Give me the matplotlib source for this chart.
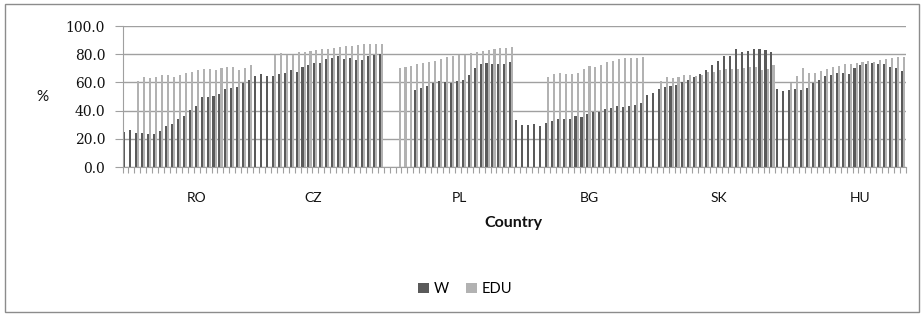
import numpy as np
import matplotlib
matplotlib.use('Agg')
import matplotlib.pyplot as plt
from matplotlib.patches import Rectangle

nan = np.nan

countries = ['RO', 'CZ', 'PL', 'BG', 'SK', 'HU']

w_ro = [24.8, 26.2, 24.1, 24.1, 23.4, 23.4, 25.5, 29.1, 30.5, 34.0, 36.2, 40.2, 43.0, 49.6, 49.6, 50.4, 51.8, 55.3, 56.0, 56.7, 59.3, 61.7]
edu_ro = [nan, nan, 61.0, 63.8, 63.1, 63.8, 65.2, 65.2, 63.8, 65.2, 66.7, 67.4, 68.6, 69.3, 69.3, 69.0, 70.0, 70.7, 70.7, 68.6, 70.0, 72.1]

w_cz = [64.5, 66.0, 64.5, 64.5, 66.0, 66.7, 68.6, 67.4, 71.2, 72.6, 73.5, 74.0, 76.8, 77.5, 79.0, 76.8, 77.5, 76.1, 76.1, 79.0, 79.7, 79.9]
edu_cz = [nan, nan, nan, 79.7, 80.9, 79.7, 79.7, 81.3, 81.3, 82.0, 82.7, 83.5, 83.5, 84.2, 84.9, 85.6, 85.6, 86.3, 87.0, 87.5, 87.5, 87.5]

w_pl = [nan, nan, nan, nan, nan, 54.4, 55.8, 57.7, 59.3, 61.2, 60.5, 59.8, 61.2, 61.9, 65.2, 70.0, 72.8, 74.0, 73.3, 73.3, 73.3, 74.7]
edu_pl = [nan, nan, 70.0, 70.7, 71.4, 73.3, 74.0, 74.7, 75.4, 76.6, 78.3, 79.0, 79.7, 79.7, 80.6, 81.3, 82.3, 82.7, 83.5, 84.2, 84.2, 84.9]

w_bg = [33.1, 29.6, 29.6, 30.3, 28.8, 31.0, 32.4, 33.8, 33.8, 34.3, 36.2, 35.5, 37.6, 39.0, 39.0, 40.9, 41.6, 43.0, 42.3, 43.0, 43.7, 45.2]
edu_bg = [nan, nan, nan, nan, nan, 63.8, 66.0, 66.7, 66.0, 66.0, 66.7, 69.3, 71.4, 71.2, 72.1, 74.7, 75.4, 76.6, 77.3, 77.3, 77.3, 78.0]

w_sk = [50.8, 52.2, 55.1, 56.5, 57.2, 58.4, 60.5, 61.7, 63.8, 66.0, 68.6, 72.1, 75.2, 79.0, 79.0, 83.5, 81.6, 82.3, 83.5, 83.5, 82.7, 81.6]
edu_sk = [nan, nan, 60.8, 63.8, 63.1, 63.8, 65.2, 65.2, 64.5, 65.2, 67.1, 67.1, 68.6, 69.3, 69.3, 69.3, 70.0, 70.7, 70.7, 68.6, 69.3, 72.1]

w_hu = [55.1, 53.7, 54.4, 55.1, 54.4, 55.8, 59.3, 61.7, 64.5, 65.2, 66.7, 66.7, 66.0, 70.0, 72.1, 72.8, 74.0, 72.8, 72.8, 70.7, 70.0, 67.8]
edu_hu = [nan, nan, 59.3, 64.5, 70.0, 66.7, 66.7, 67.8, 69.3, 70.7, 71.4, 72.8, 73.3, 74.0, 74.7, 75.4, 74.7, 76.1, 76.8, 77.5, 78.3, 78.3]

w = np.array(w_ro + w_cz + w_pl + w_bg + w_sk + w_hu)
edu = np.array(edu_ro + edu_cz + edu_pl + edu_bg + edu_sk + edu_hu)
x = np.arange(len(w))

# where the country names sit on the category axis (category units)
label_pos = [12.0, 31.7, 56.3, 78.2, 100.0, 123.8]

sans = ['Lato', 'DejaVu Sans']
grey = '#a0a0a0'
ink = '#111111'

fig = plt.figure(figsize=(9.24, 3.16), dpi=100)
ax = fig.add_axes([0.1326, 0.4715, 0.8479, 0.4462])

bw = 0.35
ax.bar(x - bw / 2, w, width=bw, color='#5a5a5a', label='W')
ax.bar(x + bw / 2, edu, width=bw, color='#b2b2b2', label='EDU')

ax.set_xlim(-0.5, len(w) - 0.5)
ax.set_ylim(0, 100)
ax.set_yticks(np.arange(0, 101, 20))
ax.set_yticklabels(['%.1f' % v for v in np.arange(0, 101, 20)], family='DejaVu Serif', fontsize=10, color=ink)
ax.set_xticks(np.arange(-0.5, len(w)), labels=[])
ax.tick_params(axis='x', length=4, color=grey, direction='out')
ax.tick_params(axis='y', length=6, color=grey, pad=6.5)

ax.yaxis.grid(True, color=grey, linewidth=1)
ax.set_axisbelow(True)
for s in ['top', 'right']:
    ax.spines[s].set_visible(False)
for s in ['left', 'bottom']:
    ax.spines[s].set_color(grey)

trans = ax.get_xaxis_transform()
for pos, name in zip(label_pos, countries):
    ax.text(pos, -0.248, name, transform=trans, ha='center', va='baseline', family=sans, fontsize=10, color=ink)

fig.text(513 / 924, 1 - 227 / 316, 'Country', ha='center', va='baseline', family=sans, fontsize=11.5, fontweight='bold', color=ink)
fig.text(42 / 924, 1 - 97 / 316, '%', ha='center', va='center', family=sans, fontsize=11, color=ink)

fig.legend(loc='center', bbox_to_anchor=(465 / 924, 1 - 289 / 316), ncol=2, frameon=False,
           handlelength=0.75, handleheight=0.75, handletextpad=0.3, columnspacing=1.2,
           prop={'family': sans, 'size': 10.5})

fig.patches.append(Rectangle((5 / 924, 4 / 316), 914 / 924, 308 / 316, transform=fig.transFigure,
                             fill=False, edgecolor='#8c8c8c', linewidth=1))

plt.savefig('out.png', dpi=100)
